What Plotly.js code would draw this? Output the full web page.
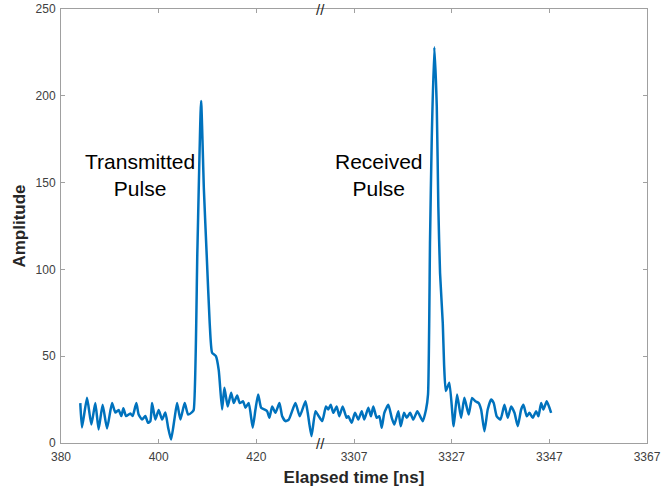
<!DOCTYPE html>
<html>
<head>
<meta charset="utf-8">
<script src="https://cdn.plot.ly/plotly-3.0.1.min.js"></script>
<style>html,body{margin:0;padding:0;background:#fff;}#chart{width:662px;height:493px;}</style>
</head>
<body>
<div id="chart"></div>
<script>
// ---- Data ----
// Transmitted segment: elapsed time [ns]
const tTransmit = [383.95,384.30,385.33,386.21,387.03,387.70,388.52,389.43,390.45,391.13,391.80,392.36,392.77,393.32,394.20,394.67,395.43,395.90,396.60,397.27,397.83,398.30,398.65,399.32,400.00,400.70,401.37,401.93,402.54,403.22,403.77,404.45,405.33,406.02,406.84,407.17,407.93,408.69,409.26,409.84,410.45,410.94,411.72,412.30,412.99,413.46,414.14,414.84,415.37,416.07,416.60,417.30,417.77,418.44,419.26,419.82,420.37,420.98,421.66,422.21,422.68,423.24,423.91,424.73,425.29,425.96,426.64,428.01,428.89,430.06,430.53,431.29,432.11,432.79];
const aTransmit = [23,9,26,10.6,23,7.8,22,8.4,23,17.6,19,15.5,20,15.5,17,15.5,23,16.4,13.5,15.5,11.6,12.6,23,13.5,19,13.5,17.6,9,2,13.5,23,13.5,23,16.4,17.8,19,111,197,146,108,69,52,50,42,19.3,31.8,21,29,23,27.4,23,24,20.3,23,8.8,19.3,28,20.3,19.3,18.3,14.5,21,17.4,23,15.4,12.6,13.5,23,15.4,24,17.4,4,18.3,15.4];
// Received segment: elapsed time [ns]
const tReceive = [3300.50,3301.26,3301.73,3302.23,3302.76,3303.45,3303.99,3304.68,3305.50,3305.83,3306.53,3307.20,3307.88,3308.58,3309.11,3309.93,3310.48,3310.95,3311.65,3312.18,3312.68,3313.21,3314.03,3314.73,3315.26,3316.08,3316.57,3317.25,3317.80,3318.48,3319.15,3319.97,3321.08,3321.75,3322.16,3322.57,3322.92,3323.45,3323.95,3324.27,3324.62,3325.18,3325.45,3325.80,3326.52,3327.41,3328.11,3328.93,3329.60,3330.49,3331.18,3331.86,3332.54,3333.03,3333.71,3334.38,3335.08,3335.61,3336.23,3336.99,3337.81,3338.48,3339.18,3339.86,3340.53,3341.23,3341.70,3342.38,3342.93,3343.61,3344.30,3344.77,3345.32,3345.79,3346.47,3347.37];
const aReceive = [12.6,21,19.3,22,17.4,21,15.4,21,14.5,15.4,11.6,17.4,13.5,18.3,13.5,20.3,15.4,21,14.5,15.4,8.8,17.4,22,14.5,10.6,18.3,9.7,17.4,14.5,17.4,13.5,18.3,12.6,19.3,28,117,175,228,194,136,98,69,45,30,34.7,9.7,28,14.5,26,16.4,26,24,23,19.3,6.8,19.3,25,23,15.4,13.5,22,14.5,21,17.4,9.7,19.3,22,15.4,17.4,14.5,18.3,15.4,23,19.3,24,17.4];

// Axis ticks (broken axis)
const tickTimesLeft = [380, 400, 420];
const tickTimesRight = [3307, 3327, 3347, 3367];
const yTicks = [0, 50, 100, 150, 200, 250];
const labelTransmit = 'Transmitted<br>Pulse';
const labelReceive = 'Received<br>Pulse';

// ---- Broken axis mapping: right segment shifted so 3307 sits where 440 would ----
const BREAK_OFFSET = 3307 - 440;
const BREAK_AT = 433.13; // position of the "//" mark on the plotting axis
const toAxis = t => (t > 1000 ? t - BREAK_OFFSET : t);

const xs = tTransmit.map(toAxis).concat(tReceive.map(toAxis));
const ys = aTransmit.concat(aReceive);
const tickTimes = tickTimesLeft.concat(tickTimesRight);

const trace = {
  x: xs, y: ys, type: 'scatter', mode: 'lines',
  line: {color: '#0072BD', width: 2.5, shape: 'spline', smoothing: 0.5},
  hoverinfo: 'skip'
};

const axisGray = '#a0a0a0';
const FONT = 'Liberation Sans, Arial, sans-serif';
const tickFont = {family: FONT, size: 12, color: '#404040'};
const titleFont = {size: 17, color: '#262626', family: FONT, weight: 'bold'};

const layout = {
  width: 662, height: 493,
  margin: {l: 61, r: 15, t: 9, b: 50},
  paper_bgcolor: '#fff', plot_bgcolor: '#fff',
  showlegend: false,
  font: {family: FONT},
  xaxis: {
    range: [380, 500], type: 'linear',
    tickmode: 'array', tickvals: tickTimes.map(toAxis), ticktext: tickTimes.map(String),
    ticks: 'inside', ticklen: 4, tickcolor: axisGray, tickwidth: 1,
    ticklabelstandoff: 3,
    showline: true, linecolor: axisGray, linewidth: 1, mirror: 'ticks',
    showgrid: false, zeroline: false,
    tickfont: tickFont,
    title: {text: 'Elapsed time [ns]', font: titleFont, standoff: 7}
  },
  yaxis: {
    range: [0, 250], tickmode: 'array', tickvals: yTicks,
    ticks: 'inside', ticklen: 4, tickcolor: axisGray, tickwidth: 1,
    ticklabelstandoff: 2,
    showline: true, linecolor: axisGray, linewidth: 1, mirror: 'ticks',
    showgrid: false, zeroline: false,
    tickfont: tickFont,
    title: {text: 'Amplitude', font: titleFont, standoff: 5}
  },
  annotations: [
    {xref: 'paper', yref: 'paper', x: 0.1353, y: 0.6175, text: labelTransmit, showarrow: false,
     font: {size: 21, color: '#000'}, align: 'center', xanchor: 'center', yanchor: 'middle'},
    {xref: 'paper', yref: 'paper', x: 0.543, y: 0.6175, text: labelReceive, showarrow: false,
     font: {size: 21, color: '#000'}, align: 'center', xanchor: 'center', yanchor: 'middle'},
    {xref: 'x', yref: 'paper', x: BREAK_AT, y: 0, text: '//', showarrow: false,
     font: {size: 15, color: '#262626'}, xanchor: 'center', yanchor: 'middle'},
    {xref: 'x', yref: 'paper', x: BREAK_AT, y: 1, text: '//', showarrow: false,
     font: {size: 15, color: '#262626'}, xanchor: 'center', yanchor: 'middle'}
  ]
};

Plotly.newPlot('chart', [trace], layout, {displayModeBar: false, staticPlot: true});
</script>
</body>
</html>
